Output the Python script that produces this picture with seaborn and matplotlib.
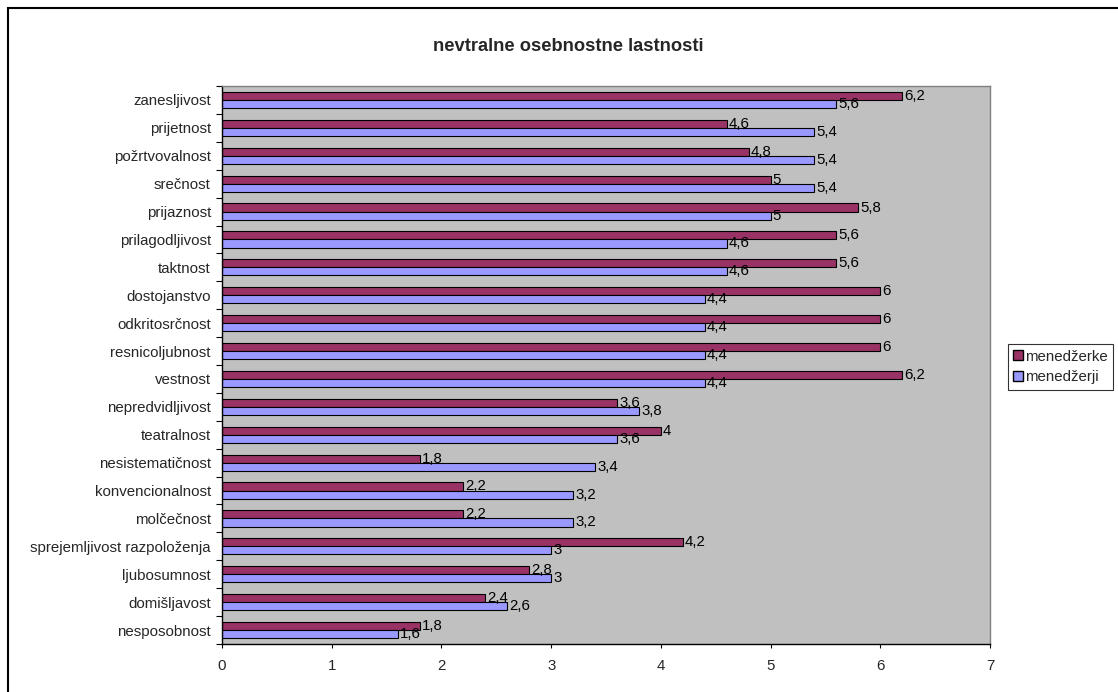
import matplotlib
matplotlib.use("Agg")
import matplotlib.pyplot as plt
import matplotlib.patches as mpatches
from matplotlib.ticker import FixedLocator
import numpy as np
import pandas as pd
import seaborn as sns

# Personality traits, listed top to bottom
traits = [
    "zanesljivost", "prijetnost", "požrtvovalnost", "srečnost", "prijaznost",
    "prilagodljivost", "taktnost", "dostojanstvo", "odkritosrčnost",
    "resnicoljubnost", "vestnost", "nepredvidljivost", "teatralnost",
    "nesistematičnost", "konvencionalnost", "molčečnost",
    "sprejemljivost razpoloženja", "ljubosumnost", "domišljavost", "nesposobnost",
]
menedzerke = [6.2, 4.6, 4.8, 5.0, 5.8, 5.6, 5.6, 6.0, 6.0, 6.0, 6.2,
              3.6, 4.0, 1.8, 2.2, 2.2, 4.2, 2.8, 2.4, 1.8]
menedzerji = [5.6, 5.4, 5.4, 5.4, 5.0, 4.6, 4.6, 4.4, 4.4, 4.4, 4.4,
              3.8, 3.6, 3.4, 3.2, 3.2, 3.0, 3.0, 2.6, 1.6]
groups = ["menedžerke", "menedžerji"]
x_ticks = [0, 1, 2, 3, 4, 5, 6, 7]

df = pd.DataFrame({
    "lastnost": traits * 2,
    "skupina": [groups[0]] * len(traits) + [groups[1]] * len(traits),
    "vrednost": menedzerke + menedzerji,
})

sns.set_style("white")
plt.rcParams["font.family"] = ["Liberation Sans", "DejaVu Sans"]

fig = plt.figure(figsize=(11.18, 6.92), dpi=100)
ax = fig.add_axes([0.1986, 0.0694, 0.6869, 0.8063])

palette = {"menedžerke": "#993366", "menedžerji": "#9999FF"}
sns.barplot(data=df, x="vrednost", y="lastnost", hue="skupina",
            hue_order=groups, order=traits, palette=palette, orient="h",
            width=0.58, edgecolor="black", linewidth=0.8, saturation=1,
            legend=False, ax=ax, errorbar=None)

ax.set_facecolor("#C0C0C0")
ax.set_xlim(0, 7)
ax.set_ylim(len(traits) - 0.5, -0.5)
ax.set_xlabel("")
ax.set_ylabel("")

# Value labels with decimal comma
for cont, vals in zip(ax.containers, [menedzerke, menedzerji]):
    labels = [f"{v:g}".replace(".", ",") for v in vals]
    ax.bar_label(cont, labels=labels, padding=1.5, fontsize=10.8,
                 color="black")

ax.set_xticks(x_ticks)
ax.set_xticklabels([str(t) for t in x_ticks], fontsize=10.8)
ax.tick_params(axis="x", which="major", direction="out", length=3,
               width=0.8, color="black", pad=8, bottom=True)

# Category labels centred, tick marks between categories
ax.tick_params(axis="y", which="major", length=0, pad=8, labelsize=10.8)
ax.yaxis.set_minor_locator(FixedLocator(np.arange(-0.5, len(traits), 1.0)))
ax.tick_params(axis="y", which="minor", direction="out", length=4,
               width=0.8, color="black", left=True)

for side in ["left", "bottom"]:
    ax.spines[side].set_color("black")
    ax.spines[side].set_linewidth(1.0)
for side in ["top", "right"]:
    ax.spines[side].set_color("#808080")
    ax.spines[side].set_linewidth(1.0)

fig.text(0.508, 0.933, "nevtralne osebnostne lastnosti", ha="center",
         va="center", fontsize=13.2, fontweight="bold")

handles = [mpatches.Patch(facecolor=palette[g], edgecolor="black",
                          linewidth=1.0, label=g) for g in groups]
leg = fig.legend(handles=handles, loc="center left",
                 bbox_to_anchor=(0.9016, 0.4697), fontsize=10.8,
                 frameon=True, fancybox=False, handlelength=0.65,
                 handleheight=0.65, handletextpad=0.12, borderpad=0.35,
                 borderaxespad=0, labelspacing=0.45)
leg.get_frame().set_edgecolor("black")
leg.get_frame().set_linewidth(0.8)

# Chart-area border
fig.patches.append(mpatches.Rectangle((0.0072, -0.2), 1.5, 0.9884 + 0.2,
                                      transform=fig.transFigure, fill=False,
                                      edgecolor="black", linewidth=1.5))

fig.savefig("out.png", dpi=100, facecolor="white")
